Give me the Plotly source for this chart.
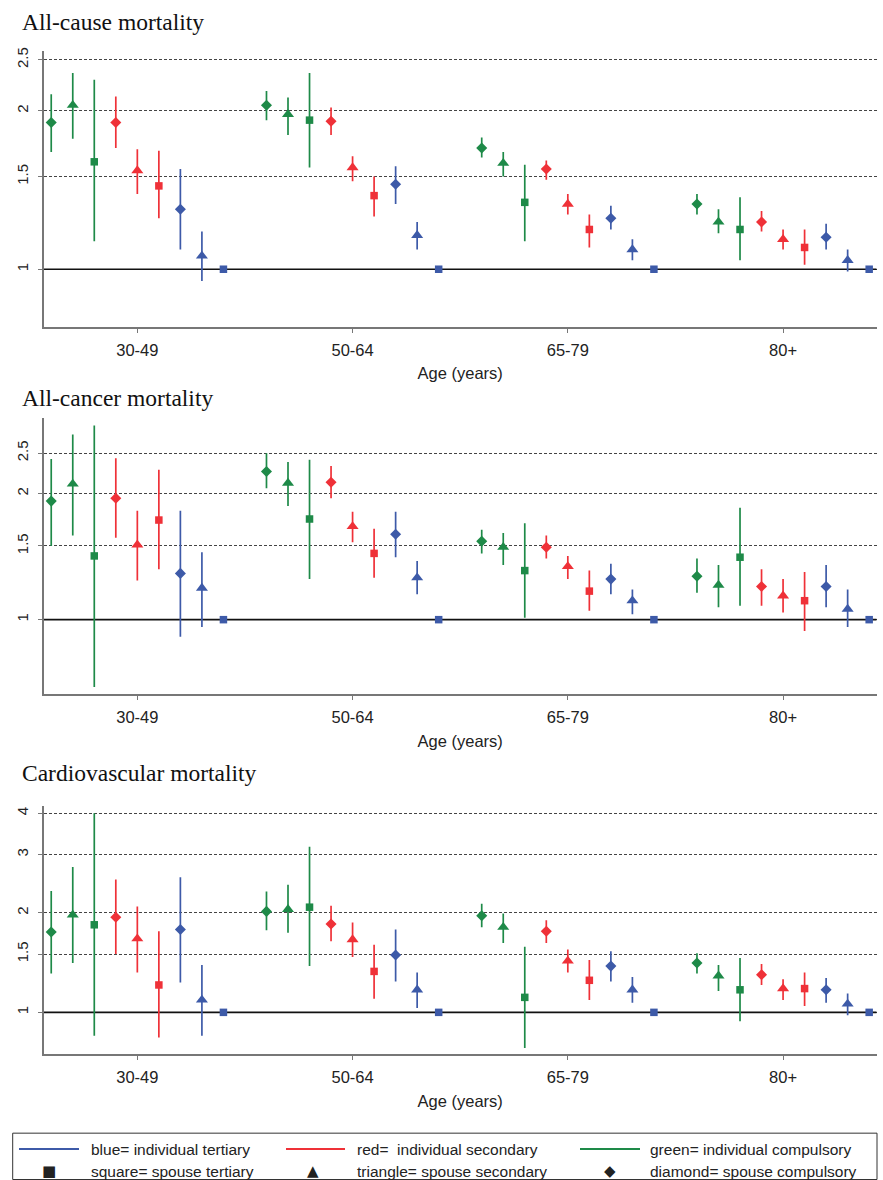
import math
import plotly.graph_objects as go

W, H = 883, 1180

ages = ["30-49", "50-64", "65-79", "80+"]
panel_titles = ["All-cause mortality", "All-cancer mortality", "Cardiovascular mortality"]

# series order inside each age group (left to right)
series_names = ["g_dia", "g_tri", "g_sq", "r_dia", "r_tri", "r_sq", "b_dia", "b_tri", "b_sq"]
series_colors = ["#1e8a48", "#1e8a48", "#1e8a48", "#ef3138", "#ef3138", "#ef3138", "#3d5aa8", "#3d5aa8", "#3d5aa8"]
series_symbols = ["diamond", "triangle-up", "square"] * 3

# rows = series (same order as series_names), columns = age groups
allcause_est = [
    [1.90, 2.05, 1.70, 1.33],
    [2.05, 1.97, 1.59, 1.23],
    [1.60, 1.92, 1.34, 1.19],
    [1.90, 1.91, 1.55, 1.23],
    [1.54, 1.56, 1.33, 1.14],
    [1.44, 1.38, 1.19, 1.10],
    [1.30, 1.45, 1.25, 1.15],
    [1.06, 1.16, 1.09, 1.04],
    [1.00, 1.00, 1.00, 1.00],
]
allcause_lo = [
    [1.67, 1.92, 1.63, 1.27],
    [1.77, 1.80, 1.50, 1.17],
    [1.13, 1.56, 1.13, 1.04],
    [1.70, 1.80, 1.48, 1.18],
    [1.39, 1.47, 1.27, 1.09],
    [1.25, 1.26, 1.10, 1.02],
    [1.09, 1.33, 1.19, 1.09],
    [0.95, 1.09, 1.04, 0.99],
    [1.00, 1.00, 1.00, 1.00],
]
allcause_hi = [
    [2.15, 2.18, 1.78, 1.39],
    [2.36, 2.12, 1.67, 1.30],
    [2.29, 2.36, 1.58, 1.37],
    [2.13, 2.03, 1.61, 1.29],
    [1.69, 1.64, 1.39, 1.19],
    [1.68, 1.50, 1.27, 1.19],
    [1.55, 1.57, 1.32, 1.22],
    [1.18, 1.23, 1.14, 1.09],
    [1.00, 1.00, 1.00, 1.00],
]

cancer_est = [
    [1.92, 2.26, 1.54, 1.27],
    [2.11, 2.12, 1.49, 1.21],
    [1.42, 1.74, 1.31, 1.41],
    [1.95, 2.13, 1.49, 1.20],
    [1.51, 1.67, 1.34, 1.14],
    [1.73, 1.44, 1.17, 1.11],
    [1.29, 1.60, 1.25, 1.20],
    [1.19, 1.26, 1.11, 1.06],
    [1.00, 1.00, 1.00, 1.00],
]
cancer_lo = [
    [1.50, 2.06, 1.44, 1.16],
    [1.59, 1.87, 1.35, 1.07],
    [0.69, 1.25, 1.01, 1.08],
    [1.57, 1.95, 1.40, 1.08],
    [1.24, 1.53, 1.25, 1.04],
    [1.32, 1.26, 1.05, 0.94],
    [0.91, 1.41, 1.15, 1.07],
    [0.96, 1.15, 1.03, 0.96],
    [1.00, 1.00, 1.00, 1.00],
]
cancer_hi = [
    [2.42, 2.50, 1.64, 1.40],
    [2.77, 2.38, 1.61, 1.35],
    [2.91, 2.41, 1.70, 1.85],
    [2.43, 2.33, 1.59, 1.32],
    [1.82, 1.81, 1.42, 1.25],
    [2.28, 1.65, 1.31, 1.30],
    [1.82, 1.81, 1.36, 1.35],
    [1.45, 1.38, 1.18, 1.18],
    [1.00, 1.00, 1.00, 1.00],
]

cvd_est = [
    [1.75, 2.02, 1.96, 1.41],
    [1.97, 2.05, 1.81, 1.29],
    [1.84, 2.08, 1.11, 1.17],
    [1.94, 1.85, 1.76, 1.30],
    [1.67, 1.66, 1.43, 1.18],
    [1.21, 1.33, 1.25, 1.18],
    [1.78, 1.49, 1.38, 1.17],
    [1.09, 1.17, 1.17, 1.06],
    [1.00, 1.00, 1.00, 1.00],
]
cvd_lo = [
    [1.31, 1.77, 1.81, 1.31],
    [1.41, 1.74, 1.62, 1.16],
    [0.85, 1.38, 0.78, 0.94],
    [1.50, 1.64, 1.62, 1.21],
    [1.32, 1.47, 1.32, 1.09],
    [0.84, 1.10, 1.09, 1.045],
    [1.23, 1.24, 1.24, 1.07],
    [0.85, 1.03, 1.07, 0.98],
    [1.00, 1.00, 1.00, 1.00],
]
cvd_hi = [
    [2.33, 2.32, 2.13, 1.51],
    [2.75, 2.43, 1.99, 1.39],
    [4.00, 3.17, 1.58, 1.46],
    [2.52, 2.10, 1.90, 1.40],
    [2.09, 1.87, 1.55, 1.26],
    [1.76, 1.60, 1.44, 1.32],
    [2.56, 1.78, 1.53, 1.27],
    [1.39, 1.32, 1.28, 1.14],
    [1.00, 1.00, 1.00, 1.00],
]

ytick_vals = [[1, 1.5, 2, 2.5], [1, 1.5, 2, 2.5], [1, 1.5, 2, 3, 4]]
ytick_text = [["1", "1.5", "2", "2.5"], ["1", "1.5", "2", "2.5"], ["1", "1.5", "2", "3", "4"]]
y_limits = [(0.777, 2.60), (0.663, 3.04), (0.746, 4.20)]

legend_line_labels = ["blue= individual tertiary", "red=  individual secondary", "green= individual compulsory"]
legend_marker_labels = ["square= spouse tertiary", "triangle= spouse secondary", "diamond= spouse compulsory"]

panels = [
    (allcause_est, allcause_lo, allcause_hi),
    (cancer_est, cancer_lo, cancer_hi),
    (cvd_est, cvd_lo, cvd_hi),
]

# ---------------- layout geometry (pixels) ----------------
px_left, px_right = 43.7, 876.7
panel_px = [(47, 324), (415, 692.7), (805, 1054)]
title_px_y = [18, 395, 772]

def fx(px):
    return px / W

def fy(py):
    return 1 - py / H

fig = go.Figure()
SANS = "Liberation Sans, Arial, sans-serif"
SERIF = "Liberation Serif, Times New Roman, serif"
sizes = {"diamond": 8.5, "triangle-up": 10.5, "square": 7.5}

for p, (est, lo, hi) in enumerate(panels):
    xa = "x" if p == 0 else f"x{p+1}"
    ya = "y" if p == 0 else f"y{p+1}"
    # reference line at 1
    fig.add_trace(go.Scatter(x=[0.65, 39.35], y=[1, 1], mode="lines",
                             line=dict(color="#111111", width=1.6),
                             xaxis=xa, yaxis=ya, hoverinfo="skip", showlegend=False))
    for s in range(len(series_names)):
        xs = [s + 1 + 10 * g for g in range(len(ages))]
        ys = est[s]
        plus = [h - v for h, v in zip(hi[s], ys)]
        minus = [v - l for v, l in zip(ys, lo[s])]
        has_err = any(abs(a) > 1e-9 for a in plus + minus)
        sym = series_symbols[s]
        fig.add_trace(go.Scatter(
            x=xs, y=ys, mode="markers", cliponaxis=False,
            marker=dict(symbol=sym, size=sizes[sym], color=series_colors[s], line=dict(width=0)),
            error_y=dict(type="data", symmetric=False, array=plus, arrayminus=minus,
                         color=series_colors[s], thickness=1.7, width=0, visible=has_err),
            xaxis=xa, yaxis=ya, showlegend=False, name=series_names[s]))

    y0, y1 = panel_px[p]
    lo_lim, hi_lim = y_limits[p]
    xkey = "xaxis" if p == 0 else f"xaxis{p+1}"
    ykey = "yaxis" if p == 0 else f"yaxis{p+1}"
    fig.update_layout(**{
        xkey: dict(domain=[fx(px_left), fx(px_right)], range=[0.65, 39.35],
                   anchor=ya, tickvals=[5, 15, 25, 35], ticktext=ages,
                   ticks="outside", ticklen=4, tickcolor="#777777", tickwidth=1.2,
                   showline=True, linecolor="#777777", linewidth=1.6,
                   showgrid=False, zeroline=False, ticklabelstandoff=3,
                   tickfont=dict(family=SANS, size=16.5, color="#222222"),
                   title=dict(text="Age (years)", standoff=10,
                              font=dict(family=SANS, size=16.5, color="#222222"))),
        ykey: dict(domain=[fy(y1), fy(y0)], type="log",
                   range=[math.log10(lo_lim), math.log10(hi_lim)],
                   anchor=xa, tickvals=ytick_vals[p], ticktext=ytick_text[p],
                   tickangle=-90, ticks="outside", ticklen=4, tickcolor="#777777",
                   showline=True, linecolor="#777777", linewidth=1.6,
                   showgrid=True, gridcolor="#444444", gridwidth=1, griddash="3px,2px",
                   zeroline=False, ticklabelstandoff=4,
                   tickfont=dict(family=SANS, size=15, color="#222222")),
    })
    fig.add_annotation(x=fx(20), y=fy(title_px_y[p]), xref="paper", yref="paper",
                       text=panel_titles[p], showarrow=False, xanchor="left", yanchor="middle",
                       font=dict(family=SERIF, size=23.5, color="#111111"))

# ---------------- legend box ----------------
fig.add_shape(type="rect", xref="paper", yref="paper", x0=fx(12.7), x1=fx(877), y0=fy(1179.5), y1=fy(1133),
              line=dict(color="#333333", width=1), fillcolor="rgba(0,0,0,0)")
row1, row2 = 1149, 1171
line_x = [(19, 79, "#3d5aa8"), (286, 345, "#ef3138"), (580, 640, "#1e8a48")]
text_x = [89, 355, 648]
marker_x = [49, 313, 610]
marker_glyph = ["■", "▲", "◆"]
for i in range(3):
    a, b, c = line_x[i]
    fig.add_shape(type="line", xref="paper", yref="paper", x0=fx(a), x1=fx(b), y0=fy(row1), y1=fy(row1),
                  line=dict(color=c, width=2))
    fig.add_annotation(x=fx(text_x[i]), y=fy(row1), xref="paper", yref="paper", text=legend_line_labels[i],
                       showarrow=False, xanchor="left", yanchor="middle",
                       font=dict(family=SANS, size=15.5, color="#222222"))
    fig.add_annotation(x=fx(marker_x[i]), y=fy(row2), xref="paper", yref="paper", text=marker_glyph[i],
                       showarrow=False, xanchor="center", yanchor="middle",
                       font=dict(family="DejaVu Sans", size=15, color="#222222"))
    fig.add_annotation(x=fx(text_x[i]), y=fy(row2), xref="paper", yref="paper", text=legend_marker_labels[i],
                       showarrow=False, xanchor="left", yanchor="middle",
                       font=dict(family=SANS, size=15.5, color="#222222"))

fig.update_layout(width=W, height=H, margin=dict(l=0, r=0, t=0, b=0),
                  paper_bgcolor="white", plot_bgcolor="white", showlegend=False)

fig.write_html("out.html", config={"displayModeBar": False},
               post_script="document.body.style.margin='0';document.body.style.overflow='hidden';")
